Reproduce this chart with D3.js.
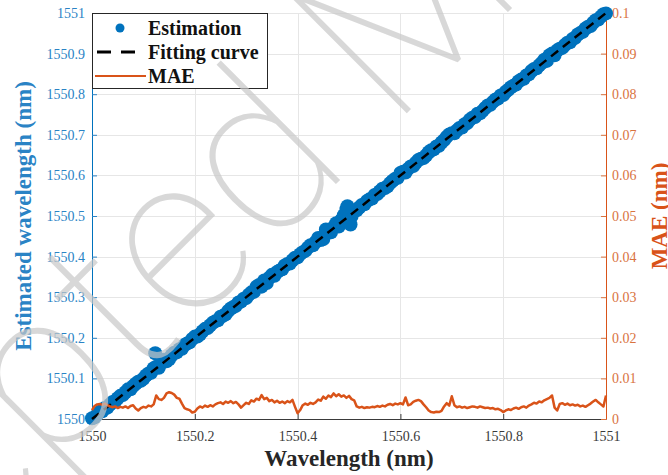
<!DOCTYPE html>
<html>
<head>
<meta charset="utf-8">
<script src="https://cdn.jsdelivr.net/npm/d3@7"></script>
<style>
  body { margin: 0; background: #fff; }
  svg { display: block; }
  text { font-family: 'Liberation Serif', 'Times New Roman', serif; }
</style>
</head>
<body>
<svg id="chart" width="668" height="475"></svg>
<script>
// ---- Wavelength scan grid (nm), one sample every 0.005 nm ----
const scanWavelength = d3.range(201).map(i => 1550 + i * 0.005);

// ---- Estimated wavelength at each scan step (nm) ----
const estValue = [
  1550.002, 1550.004, 1550.011, 1550.018, 1550.019, 1550.027, 1550.028, 1550.036, 1550.042, 1550.043,
  1550.051, 1550.057, 1550.059, 1550.066, 1550.073, 1550.073, 1550.081, 1550.087, 1550.092, 1550.094,
  1550.099, 1550.107, 1550.112, 1550.114, 1550.125, 1550.129, 1550.126, 1550.138, 1550.146, 1550.142,
  1550.147, 1550.157, 1550.163, 1550.164, 1550.172, 1550.173, 1550.182, 1550.186, 1550.189, 1550.197,
  1550.203, 1550.203, 1550.208, 1550.216, 1550.222, 1550.224, 1550.231, 1550.237, 1550.241, 1550.243,
  1550.252, 1550.254, 1550.258, 1550.266, 1550.272, 1550.276, 1550.279, 1550.287, 1550.289, 1550.296,
  1550.298, 1550.306, 1550.312, 1550.313, 1550.326, 1550.330, 1550.326, 1550.341, 1550.335, 1550.348,
  1550.355, 1550.353, 1550.362, 1550.366, 1550.369, 1550.378, 1550.382, 1550.383, 1550.391, 1550.397,
  1550.398, 1550.406, 1550.411, 1550.414, 1550.422, 1550.428, 1550.428, 1550.436, 1550.446, 1550.441,
  1550.443, 1550.461, 1550.466, 1550.460, 1550.472, 1550.482, 1550.474, 1550.490, 1550.502, 1550.517,
  1550.496, 1550.499, 1550.512, 1550.514, 1550.521, 1550.527, 1550.529, 1550.537, 1550.541, 1550.543,
  1550.552, 1550.554, 1550.561, 1550.567, 1550.569, 1550.573, 1550.581, 1550.587, 1550.592, 1550.594,
  1550.606, 1550.609, 1550.607, 1550.616, 1550.622, 1550.623, 1550.631, 1550.638, 1550.641, 1550.643,
  1550.649, 1550.657, 1550.662, 1550.664, 1550.671, 1550.673, 1550.681, 1550.687, 1550.695, 1550.701,
  1550.704, 1550.704, 1550.711, 1550.717, 1550.718, 1550.726, 1550.729, 1550.737, 1550.742, 1550.744,
  1550.752, 1550.753, 1550.759, 1550.766, 1550.772, 1550.774, 1550.781, 1550.787, 1550.789, 1550.797,
  1550.798, 1550.806, 1550.811, 1550.817, 1550.821, 1550.824, 1550.832, 1550.836, 1550.838, 1550.846,
  1550.849, 1550.857, 1550.862, 1550.864, 1550.871, 1550.877, 1550.885, 1550.882, 1550.896, 1550.900,
  1550.896, 1550.908, 1550.912, 1550.914, 1550.921, 1550.927, 1550.928, 1550.936, 1550.939, 1550.947,
  1550.951, 1550.954, 1550.962, 1550.966, 1550.968, 1550.976, 1550.982, 1550.984, 1550.991, 1550.997,
  1550.999
];

// ---- Stray estimates off the main trace ----
const strayWavelength = [1550.123, 1550.455, 1550.497, 1550.503];
const strayValue = [1550.162, 1550.467, 1550.524, 1550.479];

// ---- Linear fit of the estimation ----
const fitWavelength = [1550, 1551];
const fitValue = [1550, 1551];

// ---- Mean absolute error (nm) at each scan step ----
const maeValue = [
  0.0022, 0.0032, 0.0036, 0.0037, 0.0035, 0.0038, 0.0034, 0.0031, 0.0029, 0.0031,
  0.0027, 0.0030, 0.0028, 0.0031, 0.0027, 0.0032, 0.0034, 0.0026, 0.0021, 0.0027,
  0.0030, 0.0028, 0.0033, 0.0031, 0.0036, 0.0058, 0.0049, 0.0047, 0.0052, 0.0063,
  0.0066, 0.0064, 0.0060, 0.0052, 0.0050, 0.0038, 0.0027, 0.0024, 0.0022, 0.0016,
  0.0018, 0.0026, 0.0031, 0.0028, 0.0033, 0.0030, 0.0034, 0.0031, 0.0036, 0.0039,
  0.0041, 0.0037, 0.0043, 0.0040, 0.0044, 0.0039, 0.0042, 0.0036, 0.0028, 0.0034,
  0.0040, 0.0037, 0.0046, 0.0043, 0.0050, 0.0047, 0.0059, 0.0049, 0.0052, 0.0044,
  0.0047, 0.0041, 0.0045, 0.0040, 0.0043, 0.0039, 0.0044, 0.0041, 0.0047, 0.0030,
  0.0014, 0.0022, 0.0034, 0.0038, 0.0035, 0.0040, 0.0037, 0.0041, 0.0048, 0.0045,
  0.0055, 0.0050, 0.0058, 0.0054, 0.0063, 0.0056, 0.0061, 0.0055, 0.0058, 0.0052,
  0.0057, 0.0049, 0.0046, 0.0031, 0.0028, 0.0030, 0.0027, 0.0029, 0.0028, 0.0030,
  0.0029, 0.0032, 0.0030, 0.0033, 0.0031, 0.0035, 0.0037, 0.0034, 0.0038, 0.0036,
  0.0039, 0.0036, 0.0053, 0.0034, 0.0036, 0.0042, 0.0045, 0.0047, 0.0044, 0.0036,
  0.0029, 0.0021, 0.0017, 0.0016, 0.0018, 0.0017, 0.0020, 0.0031, 0.0039, 0.0033,
  0.0056, 0.0034, 0.0029, 0.0031, 0.0028, 0.0030, 0.0027, 0.0029, 0.0031, 0.0030,
  0.0028, 0.0031, 0.0029, 0.0027, 0.0028, 0.0026, 0.0027, 0.0024, 0.0025, 0.0022,
  0.0017, 0.0021, 0.0024, 0.0022, 0.0026, 0.0028, 0.0025, 0.0029, 0.0031, 0.0028,
  0.0033, 0.0036, 0.0040, 0.0038, 0.0043, 0.0041, 0.0046, 0.0049, 0.0052, 0.0058,
  0.0028, 0.0021, 0.0037, 0.0039, 0.0035, 0.0038, 0.0034, 0.0036, 0.0033, 0.0035,
  0.0031, 0.0033, 0.0030, 0.0034, 0.0038, 0.0043, 0.0047, 0.0041, 0.0036, 0.0031,
  0.0058
];

// ---- Ticks and labels ----
const xTicks = [1550, 1550.2, 1550.4, 1550.6, 1550.8, 1551];
const xTickLabels = ["1550", "1550.2", "1550.4", "1550.6", "1550.8", "1551"];
const yLeftTicks = [1550, 1550.1, 1550.2, 1550.3, 1550.4, 1550.5, 1550.6, 1550.7, 1550.8, 1550.9, 1551];
const yLeftTickLabels = ["1550", "1550.1", "1550.2", "1550.3", "1550.4", "1550.5", "1550.6", "1550.7", "1550.8", "1550.9", "1551"];
const yRightTicks = [0, 0.01, 0.02, 0.03, 0.04, 0.05, 0.06, 0.07, 0.08, 0.09, 0.1];
const yRightTickLabels = ["0", "0.01", "0.02", "0.03", "0.04", "0.05", "0.06", "0.07", "0.08", "0.09", "0.1"];
const legendLabels = ["Estimation", "Fitting curve", "MAE"];

// ---- Layout ----
const plot = { left: 92, right: 606, top: 13, bottom: 419 };
const BLUE = "#0072BD", ORANGE = "#D95319";
const SERIF = "'Liberation Serif', 'Times New Roman', serif";

const svg = d3.select("#chart");

const x = d3.scaleLinear().domain([1550, 1551]).range([plot.left, plot.right]);
const yL = d3.scaleLinear().domain([1550, 1551]).range([plot.bottom, plot.top]);
const yR = d3.scaleLinear().domain([0, 0.1]).range([plot.bottom, plot.top]);

// grid
const grid = svg.append("g").attr("stroke", "#e6e6e6").attr("stroke-width", 1);
grid.selectAll("line.gx").data(xTicks.slice(1)).join("line")
  .attr("x1", d => Math.round(x(d)) + 0.5).attr("x2", d => Math.round(x(d)) + 0.5)
  .attr("y1", plot.top).attr("y2", plot.bottom);
grid.selectAll("line.gy").data(yLeftTicks.slice(1)).join("line")
  .attr("x1", plot.left).attr("x2", plot.right)
  .attr("y1", d => Math.round(yL(d)) + 0.5).attr("y2", d => Math.round(yL(d)) + 0.5);

// axes
function styleAxis(g, color, size) {
  g.attr("font-family", SERIF).attr("font-size", size);
  g.selectAll("path.domain").attr("stroke", color).attr("stroke-width", 1);
  g.selectAll(".tick line").attr("stroke", color);
  g.selectAll(".tick text").attr("fill", color)
    .style("font-family", SERIF).style("font-size", size + "px");
}

const gx = svg.append("g").attr("transform", `translate(0,${plot.bottom})`)
  .call(d3.axisBottom(x).tickValues(xTicks).tickFormat((d, i) => xTickLabels[i])
    .tickSizeInner(-5).tickSizeOuter(0).tickPadding(12));
styleAxis(gx, "#3a3a3a", 14);

const gl = svg.append("g").attr("transform", `translate(${plot.left},0)`)
  .call(d3.axisLeft(yL).tickValues(yLeftTicks).tickFormat((d, i) => yLeftTickLabels[i])
    .tickSizeInner(-5).tickSizeOuter(0).tickPadding(7));
styleAxis(gl, "#2a83c5", 14);
gl.select("path.domain").attr("stroke", BLUE);

const gr = svg.append("g").attr("transform", `translate(${plot.right},0)`)
  .call(d3.axisRight(yR).tickValues(yRightTicks).tickFormat((d, i) => yRightTickLabels[i])
    .tickSizeInner(-5).tickSizeOuter(0).tickPadding(6));
styleAxis(gr, "#d9733f", 14);
gr.select("path.domain").attr("stroke", ORANGE);

// estimation points
const estPoints = scanWavelength.map((w, i) => [w, estValue[i]])
  .concat(strayWavelength.map((w, i) => [w, strayValue[i]]));
svg.append("g").selectAll("circle").data(estPoints).join("circle")
  .attr("cx", d => x(d[0])).attr("cy", d => yL(d[1])).attr("r", 7)
  .attr("fill", BLUE);

// fitting curve
svg.append("path")
  .datum(fitWavelength.map((w, i) => [w, fitValue[i]]))
  .attr("fill", "none").attr("stroke", "#000").attr("stroke-width", 2.5)
  .attr("stroke-dasharray", "9,6")
  .attr("d", d3.line().x(d => x(d[0])).y(d => yL(d[1])));

// MAE line
svg.append("path")
  .datum(scanWavelength.map((w, i) => [w, maeValue[i]]))
  .attr("fill", "none").attr("stroke", ORANGE).attr("stroke-width", 2.5)
  .attr("stroke-linejoin", "round")
  .attr("d", d3.line().x(d => x(d[0])).y(d => yR(d[1])));

// axis titles
svg.append("text")
  .attr("x", (plot.left + plot.right) / 2).attr("y", 466)
  .attr("text-anchor", "middle").attr("font-weight", "bold")
  .attr("font-size", 23).attr("fill", "#262626")
  .text("Wavelength (nm)");

svg.append("text")
  .attr("transform", `translate(31,${(plot.top + plot.bottom) / 2}) rotate(-90)`)
  .attr("text-anchor", "middle").attr("font-weight", "bold")
  .attr("font-size", 23).attr("fill", "#2a83c5")
  .text("Estimated wavelength (nm)");

svg.append("text")
  .attr("transform", `translate(667,${(plot.top + plot.bottom) / 2}) rotate(-90)`)
  .attr("text-anchor", "middle").attr("font-weight", "bold")
  .attr("font-size", 23).attr("fill", ORANGE)
  .text("MAE (nm)");

// legend
const lg = svg.append("g");
lg.append("rect").attr("x", plot.left + 0.5).attr("y", plot.top + 0.5)
  .attr("width", 175).attr("height", 75)
  .attr("fill", "#fff").attr("stroke", "#262626").attr("stroke-width", 1);
const rowY = [28, 52, 76];
lg.append("circle").attr("cx", 120).attr("cy", rowY[0]).attr("r", 4.5).attr("fill", BLUE);
lg.append("line").attr("x1", 97).attr("x2", 137).attr("y1", rowY[1]).attr("y2", rowY[1])
  .attr("stroke", "#000").attr("stroke-width", 3).attr("stroke-dasharray", "14,10");
lg.append("line").attr("x1", 95).attr("x2", 146).attr("y1", rowY[2]).attr("y2", rowY[2])
  .attr("stroke", ORANGE).attr("stroke-width", 2.2);
lg.selectAll("text").data(legendLabels).join("text")
  .attr("x", 148).attr("y", (d, i) => rowY[i] + 7)
  .attr("font-weight", "bold").attr("font-size", 20)
  .attr("fill", "#111").text(d => d);

// diagonal "Accepted Manuscript" watermark
svg.append("text")
  .attr("transform", "translate(-288,808) rotate(-45)")
  .style("font-family", "Roboto, 'Open Sans', sans-serif").attr("font-weight", 100)
  .attr("font-size", 225).attr("fill", "#c8c8c8").attr("fill-opacity", 0.7)
  .text("Accepted Manuscript");
</script>
</body>
</html>
